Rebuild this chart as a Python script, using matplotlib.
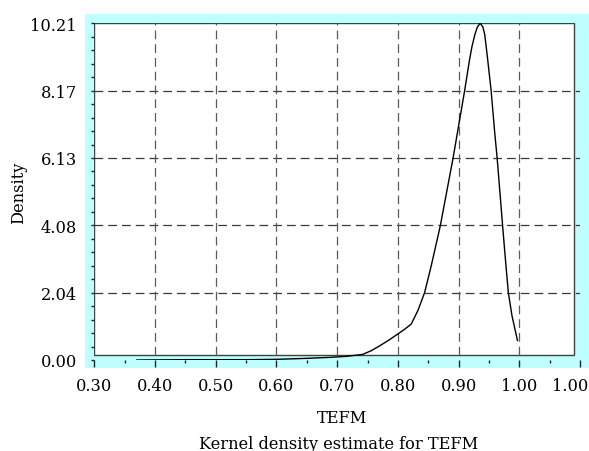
import matplotlib
matplotlib.use('Agg')
import matplotlib.pyplot as plt
from matplotlib.patches import Rectangle
from matplotlib.transforms import ScaledTranslation

# Data
tefm = [0.37, 0.45, 0.55, 0.60, 0.65, 0.688, 0.715, 0.742, 0.756, 0.770,
        0.785, 0.800, 0.811, 0.822, 0.833, 0.844, 0.855, 0.865, 0.870,
        0.891, 0.910, 0.918, 0.922, 0.927, 0.931, 0.9355, 0.940, 0.943,
        0.9455, 0.948, 0.9536, 0.9595, 0.9635, 0.969, 0.9725, 0.9757,
        0.979, 0.982, 0.988, 0.997]
density = [0.00, 0.01, 0.01, 0.02, 0.05, 0.08, 0.11, 0.17, 0.28, 0.43,
           0.60, 0.79, 0.93, 1.09, 1.50, 2.04, 2.86, 3.67, 4.08,
           6.13, 8.17, 9.10, 9.50, 9.88, 10.10, 10.21, 10.10, 9.88,
           9.50, 9.10, 8.17, 6.90, 6.13, 4.88, 4.08, 3.37,
           2.66, 2.04, 1.34, 0.59]

xticks = [0.30, 0.40, 0.50, 0.60, 0.70, 0.80, 0.90, 1.00, 1.10]
xticklabels = ['0.30', '0.40', '0.50', '0.60', '0.70', '0.80', '0.90', '1.00', '1.00']
ymax = 10.21
yticks = [ymax * i / 5 for i in range(6)]
yticklabels = ['0.00', '2.04', '4.08', '6.13', '8.17', '10.21']

plt.rcParams['font.family'] = ['DejaVu Serif']
fs = 11.7

fig = plt.figure(figsize=(5.89, 4.52), dpi=100)
W, H = 589.0, 452.0

# cyan backdrop
fig.patches.append(Rectangle((85 / W, (H - 369) / H), (589 - 85) / W, (369 - 15) / H,
                             transform=fig.transFigure, facecolor='#c0ffff',
                             edgecolor='none', zorder=0))

ax = fig.add_axes([94.3 / W, (H - 361) / H, (580 - 94.3) / W, (361 - 24.3) / H])
ax.set_zorder(2)
ax.set_facecolor('none')
ax.set_xlim(0.30, 1.10)
ax.set_ylim(0, ymax)
for s in ax.spines.values():
    s.set_visible(False)

# white plot box
ax.add_patch(Rectangle((0.30, 0.16), 1.0906 - 0.30, ymax - 0.16, facecolor='white',
                       edgecolor='#404040', linewidth=1.0, zorder=0.5))

# grid
for y in yticks[1:5]:
    ax.plot([0.30, 1.10], [y, y], color='#3a3a3a', lw=0.9, ls=(0, (7, 4)), zorder=1.5)
for x in xticks[1:8]:
    ax.plot([x, x], [0.16, ymax], color='#5a5a5a', lw=0.9, ls=(0, (7, 4)), zorder=1.5)

ax.plot(tefm, density, color='black', lw=1.0, zorder=3)

ax.set_xticks(xticks)
ax.set_xticklabels(xticklabels)
ax.set_xticks([0.35, 0.45, 0.55, 0.65, 0.75, 0.85, 0.95, 1.05], minor=True)
ax.set_yticks(yticks)
ax.set_yticklabels(yticklabels)
ax.set_yticks([ymax * i / 25 for i in range(26) if i % 5], minor=True)

ax.tick_params(axis='x', which='major', direction='out', length=5, width=1,
               color='#202020', pad=7, labelsize=fs)
ax.tick_params(axis='x', which='minor', direction='out', length=2.5, width=1,
               color='#202020')
ax.tick_params(axis='y', which='major', direction='out', length=2.5, width=1,
               color='#202020', pad=10, labelsize=fs)
ax.tick_params(axis='y', which='minor', direction='out', length=2.5, width=1,
               color='#202020')

# last label sits a bit to the left of its tick, as in the reference
last = ax.get_xticklabels()[-1]
last.set_transform(last.get_transform() + ScaledTranslation(-9.5 / 100, 0, fig.dpi_scale_trans))

fig.text(18.3 / W, (H - 193) / H, 'Density', rotation=90, ha='center', va='center',
         fontsize=fs)
fig.text(341.7 / W, (H - 423.3) / H, 'TEFM', ha='center', va='baseline', fontsize=fs)
fig.text(339 / W, (H - 449.5) / H, 'Kernel density estimate for TEFM', ha='center',
         va='baseline', fontsize=fs)

fig.savefig('out.png', dpi=100)
